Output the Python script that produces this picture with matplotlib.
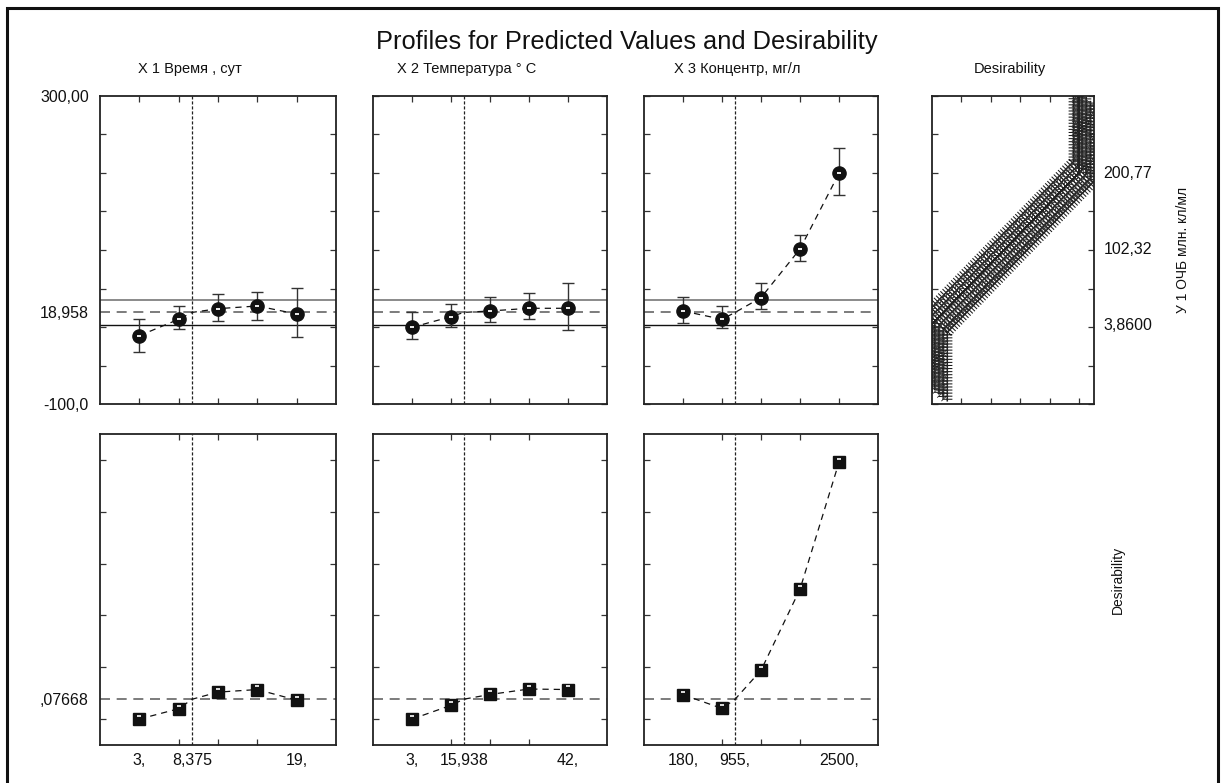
import matplotlib.pyplot as plt
import matplotlib.patheffects as pe
from matplotlib.patches import Rectangle
from matplotlib.transforms import ScaledTranslation
import numpy as np

plt.rcParams['font.family'] = ['Liberation Sans', 'DejaVu Sans']

# --------------------------------------
# factor levels, current settings and axis text

x1_levels = [3, 7, 11, 15, 19]
x2_levels = [3, 12.75, 22.5, 32.25, 42]
x3_levels = [180, 760, 1340, 1920, 2500]
x_current = [8.375, 15.938, 955]
x_limits = [(-1, 23), (-6.75, 51.75), (-400, 3080)]
x_ticklabels = [["3,", "8,375", "19,"],
                ["3,", "15,938", "42,"],
                ["180,", "955,", "2500,"]]

headers = ["X 1 Время , сут", "X 2 Температура ° C",
           "X 3 Концентр, мг/л", "Desirability"]
response_name = "У 1 ОЧБ млн. кл/мл"

# predicted response (У 1) with confidence limits at each level
pred1 = [-11.3, 10.0, 23.8, 27.3, 16.9]
low1 = [-32.1, -2.2, 8.2, 9.0, -12.6]
high1 = [10.8, 27.3, 42.9, 45.8, 51.0]

pred2 = [-0.4, 13.4, 20.8, 24.3, 24.3]
low2 = [-15.2, 0.0, 6.5, 10.4, -3.9]
high2 = [19.9, 30.3, 39.4, 44.5, 57.5]

pred3 = [20.8, 10.0, 38.1, 101.3, 199.6]
low3 = [4.8, -1.7, 23.4, 86.1, 171.4]
high3 = [39.4, 27.7, 56.7, 119.9, 232.9]

y_current = 18.958
y_band = [3.2, 34.7]

# desirability at each level
des1 = [0.0, 0.040, 0.104, 0.114, 0.073]
des2 = [0.0, 0.053, 0.095, 0.116, 0.114]
des3 = [0.094, 0.041, 0.188, 0.501, 0.991]
des_current = 0.07668

# desirability function of the response
resp_curve = [-85, 3.86, 200.77, 300]
desir_curve = [0, 0, 1, 1]
desir_ticks = [3.86, 102.32, 200.77]
desir_ticklabels = ["3,8600", "102,32", "200,77"]

levels = [x1_levels, x2_levels, x3_levels]
preds = [pred1, pred2, pred3]
lows = [low1, low2, low3]
highs = [high1, high2, high3]
desirs = [des1, des2, des3]

# --------------------------------------

W, H = 1222, 783
fig = plt.figure(figsize=(W / 100, H / 100), dpi=100)


def add_panel(x0, y0, x1, y1):
    """Axes placed by pixel edges."""
    return fig.add_axes([x0 / W, 1 - y1 / H, (x1 - x0) / W, (y1 - y0) / H])


def style(ax):
    for s in ax.spines.values():
        s.set_linewidth(1.3)
        s.set_color("#222222")
    ax.tick_params(which="both", direction="in", top=True, right=True,
                   color="#333333", labelsize=11.5, labelcolor="#111111")
    ax.tick_params(which="minor", length=4, width=0.9)
    ax.tick_params(which="major", length=0)


def with_current(xs, ys, xc, yc):
    """Profile passes through the current setting."""
    xs = list(xs)
    ys = list(ys)
    i = int(np.searchsorted(xs, xc))
    xs.insert(i, xc)
    ys.insert(i, yc)
    return xs, ys


columns = [(100, 336), (373, 607), (644, 878)]
top_row = (96, 404)
bottom_row = (434, 745)

dash_up = ScaledTranslation(0, 2.2 / 72, fig.dpi_scale_trans)

for k in range(3):
    x0, x1 = columns[k]
    lv = levels[k]
    xc = x_current[k]

    # ---- predicted values
    ax = add_panel(x0, top_row[0], x1, top_row[1])
    style(ax)
    ax.set_xlim(*x_limits[k])
    ax.set_ylim(-100, 300)
    ax.set_xticks(lv, minor=True)
    ax.set_xticks([])
    ax.set_yticks(np.arange(-100, 301, 50), minor=True)
    if k == 0:
        ax.set_yticks([-100, y_current, 300])
        ax.set_yticklabels(["-100,0", "18,958", "300,00"])
        ax.tick_params(axis="y", pad=8)
    else:
        ax.set_yticks([])

    ax.axhline(y_band[1], color="#777777", lw=1.2)
    ax.axhline(y_current, color="#666666", lw=1.2, ls=(0, (6, 4)))
    ax.axhline(y_band[0], color="#111111", lw=1.0)
    ax.axvline(xc, color="#222222", lw=0.9, ls=(0, (2.5, 1.5)))

    px, py = with_current(lv, preds[k], xc, y_current)
    ax.plot(px, py, color="#111111", lw=0.9, ls=(0, (5, 4)))
    yerr = [np.subtract(preds[k], lows[k]), np.subtract(highs[k], preds[k])]
    ax.errorbar(lv, preds[k], yerr=yerr, fmt="none", ecolor="#333333",
                elinewidth=1.0, capsize=4, capthick=1.0)
    ax.plot(lv, preds[k], "o", ms=9.5, color="#111111", zorder=5)
    ax.plot(lv, preds[k], "_", ms=3.5, mew=1.3, color="white", zorder=6)

    # ---- desirability
    ax = add_panel(x0, bottom_row[0], x1, bottom_row[1])
    style(ax)
    ax.set_xlim(*x_limits[k])
    ax.set_ylim(-0.1, 1.1)
    ax.set_xticks(lv, minor=True)
    ax.set_xticks([lv[0], xc, lv[-1]])
    ax.set_xticklabels(x_ticklabels[k])
    ax.tick_params(axis="x", pad=6)
    ax.set_yticks([0, 0.2, 0.4, 0.6, 0.8, 1.0], minor=True)
    if k == 0:
        ax.set_yticks([des_current])
        ax.set_yticklabels([",07668"])
        ax.tick_params(axis="y", pad=8)
    else:
        ax.set_yticks([])

    ax.axhline(des_current, color="#666666", lw=1.2, ls=(0, (6, 4)))
    ax.axvline(xc, color="#222222", lw=0.9, ls=(0, (2.5, 1.5)))
    px, py = with_current(lv, desirs[k], xc, des_current)
    ax.plot(px, py, color="#111111", lw=0.9, ls=(0, (5, 4)))
    ax.plot(lv, desirs[k], "s", ms=8.5, color="#111111", zorder=5)
    ax.plot(lv, desirs[k], "_", ms=3.0, mew=1.2, color="white", zorder=6,
            transform=ax.transData + dash_up)

# ---- desirability function panel
axd = add_panel(932, top_row[0], 1094, top_row[1])
style(axd)
axd.set_xlim(0, 1.1)
axd.set_ylim(-100, 300)
axd.set_xticks([0.2, 0.4, 0.6, 0.8, 1.0], minor=True)
axd.set_xticks([])
axd.set_yticks(np.arange(-100, 301, 50), minor=True)
axd.set_yticks(desir_ticks)
axd.set_yticklabels(desir_ticklabels)
axd.tick_params(axis="y", labelleft=False, labelright=True, pad=7)

# thick hatched band of overlapping point symbols
band = []
for dx, dy in [(-4, 8), (-1, 5), (2, 2), (5, -1), (8, -4), (11, -6)]:
    for ang in (90, -90):
        band.append(pe.withTickedStroke(offset=(dx, dy), spacing=2.2,
                                        angle=ang, length=1.5, linewidth=0.75,
                                        foreground="#1a1a1a"))
    band.append(pe.Stroke(offset=(dx, dy), linewidth=1.1,
                          foreground="#222222"))
for dx, dy in [(-2.5, 6.5), (0.5, 3.5), (3.5, 0.5), (6.5, -2.5), (9.5, -5)]:
    for ang in (45, 135):
        band.append(pe.withTickedStroke(offset=(dx, dy), spacing=3.0,
                                        angle=ang, length=1.2, linewidth=0.6,
                                        foreground="#333333"))
axd.plot(desir_curve, resp_curve, color="#222222", lw=0.8, path_effects=band)

# ---- titles and side labels
fig.text(627 / W, 1 - 42 / H, "Profiles for Predicted Values and Desirability",
         ha="center", va="center", fontsize=18.3, color="#111111")
for cx, txt in zip([190, 467, 737, 1010], headers):
    fig.text(cx / W, 1 - 69 / H, txt, ha="center", va="center",
             fontsize=10.5, color="#111111")
fig.text(1183 / W, 1 - 250 / H, response_name, rotation=90,
         ha="center", va="center", fontsize=10, color="#111111")
fig.text(1118 / W, 1 - 580 / H, "Desirability", rotation=90,
         ha="center", va="center", fontsize=10, color="#111111")

# outer frame, open at the bottom edge
fig.add_artist(Rectangle((7 / W, -0.05), (1218 - 7) / W, 1.05 - 8 / H,
                         transform=fig.transFigure, fill=False,
                         lw=2.2, ec="#111111"))

fig.savefig("out.png", dpi=100)
